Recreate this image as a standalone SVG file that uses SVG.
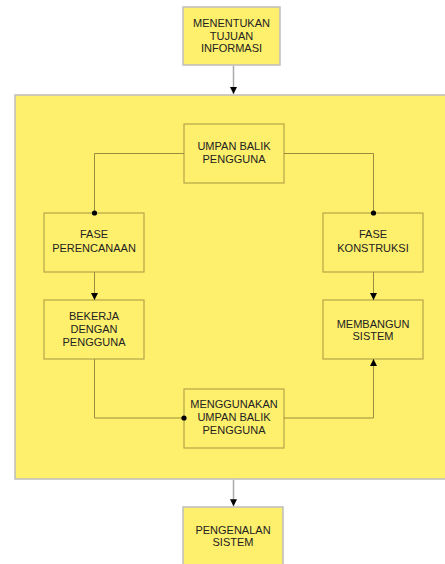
<svg xmlns="http://www.w3.org/2000/svg" width="445" height="564" viewBox="0 0 445 564">
<style>
.outer{fill:#fef06c;stroke:#bdbdbd;stroke-width:1.5}
.inner{fill:#fef06c;stroke:#b5a64a;stroke-width:1.2}
.t{font-family:"Liberation Sans",Arial,sans-serif;font-size:11px;fill:#222;text-anchor:middle}
.c{fill:none;stroke:#9a8d3e;stroke-width:1}
.g{fill:none;stroke:#aaaaaa;stroke-width:1.5}
</style>
<defs>
<marker id="ah" viewBox="0 0 10 10" refX="10" refY="5" markerWidth="7" markerHeight="7" markerUnits="userSpaceOnUse" orient="auto">
<path d="M0,0 L10,5 L0,10 z" fill="#000"/>
</marker>
</defs>
<rect id="container" class="outer" x="15" y="95" width="440" height="384"/>
<g id="n1"><rect class="outer" x="183" y="7" width="97" height="58"/>
<text class="t" x="231.5" y="27">MENENTUKAN</text><text class="t" x="231.5" y="39.5">TUJUAN</text><text class="t" x="231.5" y="52">INFORMASI</text></g>
<g id="n2"><rect class="inner" x="184" y="124" width="100" height="59"/>
<text class="t" x="234" y="150">UMPAN BALIK</text><text class="t" x="234" y="163">PENGGUNA</text></g>
<g id="n3"><rect class="inner" x="44" y="213" width="100" height="59"/>
<text class="t" x="94" y="238">FASE</text><text class="t" x="94" y="251.5">PERENCANAAN</text></g>
<g id="n4"><rect class="inner" x="323" y="213" width="100" height="59"/>
<text class="t" x="373" y="238">FASE</text><text class="t" x="373" y="251.5">KONSTRUKSI</text></g>
<g id="n5"><rect class="inner" x="44" y="300" width="100" height="59"/>
<text class="t" x="94" y="320">BEKERJA</text><text class="t" x="94" y="333">DENGAN</text><text class="t" x="94" y="346">PENGGUNA</text></g>
<g id="n6"><rect class="inner" x="323" y="300" width="100" height="59"/>
<text class="t" x="373" y="328">MEMBANGUN</text><text class="t" x="373" y="340">SISTEM</text></g>
<g id="n7"><rect class="inner" x="184" y="389" width="100" height="59"/>
<text class="t" x="234" y="407.5">MENGGUNAKAN</text><text class="t" x="234" y="420.5">UMPAN BALIK</text><text class="t" x="234" y="434">PENGGUNA</text></g>
<g id="n8"><rect class="outer" x="183" y="507" width="100" height="70"/>
<text class="t" x="233" y="534">PENGENALAN</text><text class="t" x="233" y="546">SISTEM</text></g>
<g id="connectors">
<line class="g" x1="233.5" y1="65.8" x2="233.5" y2="94" marker-end="url(#ah)"/>
<line class="g" x1="233.5" y1="479.8" x2="233.5" y2="506.2" marker-end="url(#ah)"/>
<polyline class="c" points="184,153.5 94.5,153.5 94.5,213"/>
<polyline class="c" points="284,153.5 373.5,153.5 373.5,213"/>
<circle cx="94.5" cy="213" r="2.6" fill="#000"/>
<circle cx="373.5" cy="213" r="2.6" fill="#000"/>
<line class="c" x1="94.5" y1="272" x2="94.5" y2="300" marker-end="url(#ah)"/>
<line class="c" x1="373.5" y1="272" x2="373.5" y2="300" marker-end="url(#ah)"/>
<polyline class="c" points="94.5,359 94.5,418 184,418"/>
<circle cx="184" cy="418" r="2.6" fill="#000"/>
<polyline class="c" points="284,418 373.5,418 373.5,359" marker-end="url(#ah)"/>
</g>
</svg>
